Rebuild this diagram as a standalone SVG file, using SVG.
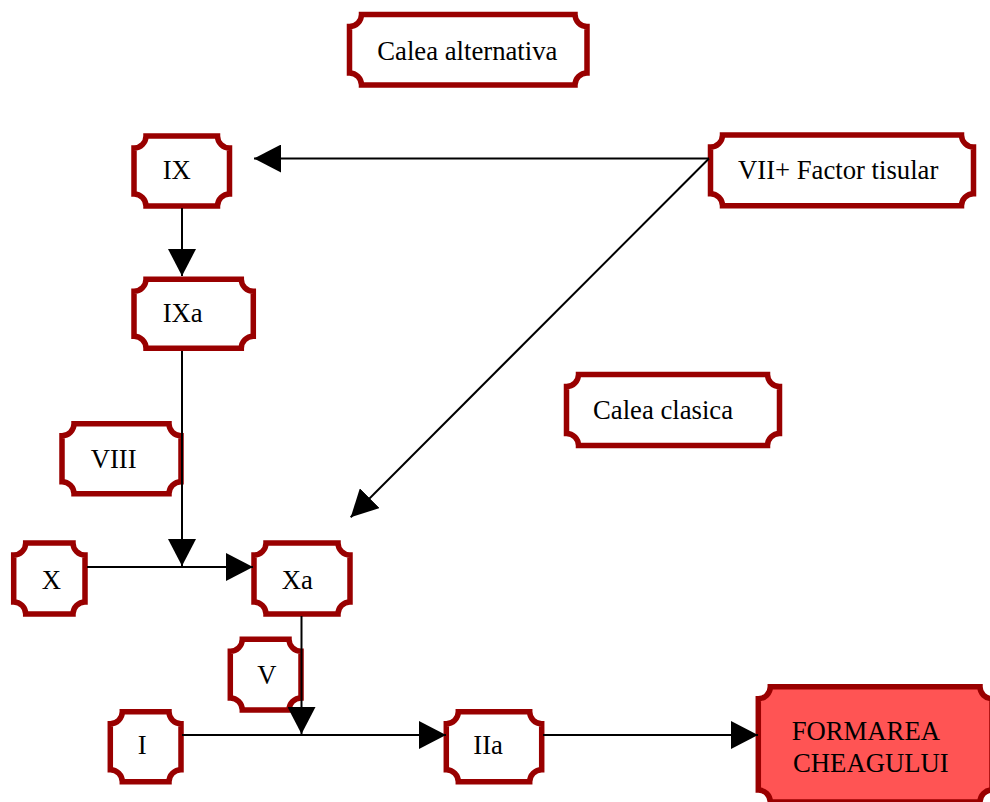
<svg xmlns="http://www.w3.org/2000/svg" width="990" height="802" viewBox="0 0 990 802">
  <style>
    .box { fill: #ffffff; stroke: #990000; stroke-width: 5.5; stroke-linejoin: miter; }
    .hot { fill: #ff5454; }
    .lbl { font-family: "Liberation Serif", "Times New Roman", serif; font-size: 26.7px; fill: #000000; }
    .wire { fill: none; stroke: #000000; stroke-width: 2; }
  </style>
  <defs>
    <marker id="head" markerUnits="userSpaceOnUse" markerWidth="28" markerHeight="28" refX="27" refY="14" orient="auto">
      <path d="M0,0 L27,14 L0,28 Z" fill="#000000"/>
    </marker>
  </defs>

  <!-- rectangles with concave (scooped) corners, r = 12 -->
  <g id="calea-alternativa">
    <path class="box" d="M361.5,14.5 H575 A12,12 0 0 0 587,26.5 V73 A12,12 0 0 0 575,85 H361.5 A12,12 0 0 0 349.5,73 V26.5 A12,12 0 0 0 361.5,14.5 Z"/>
    <text class="lbl" x="377.3" y="60">Calea alternativa</text>
  </g>

  <g id="ix">
    <path class="box" d="M146,136 H217.5 A12,12 0 0 0 229.5,148 V194 A12,12 0 0 0 217.5,206 H146 A12,12 0 0 0 134,194 V148 A12,12 0 0 0 146,136 Z"/>
    <text class="lbl" x="162.7" y="179.3">IX</text>
  </g>

  <g id="ixa">
    <path class="box" d="M146,279.3 H241.3 A12,12 0 0 0 253.3,291.3 V336.3 A12,12 0 0 0 241.3,348.3 H146 A12,12 0 0 0 134,336.3 V291.3 A12,12 0 0 0 146,279.3 Z"/>
    <text class="lbl" x="162.7" y="321.7">IXa</text>
  </g>

  <g id="viii">
    <path class="box" d="M74,423.7 H169 A12,12 0 0 0 181,435.7 V481.7 A12,12 0 0 0 169,493.7 H74 A12,12 0 0 0 62,481.7 V435.7 A12,12 0 0 0 74,423.7 Z"/>
    <text class="lbl" x="90.7" y="468.3">VIII</text>
  </g>

  <g id="calea-clasica">
    <path class="box" d="M578.5,374.5 H767.5 A12,12 0 0 0 779.5,386.5 V433.5 A12,12 0 0 0 767.5,445.5 H578.5 A12,12 0 0 0 566.5,433.5 V386.5 A12,12 0 0 0 578.5,374.5 Z"/>
    <text class="lbl" x="593" y="419">Calea clasica</text>
  </g>

  <g id="vii-factor-tisular">
    <path class="box" d="M722.5,135 H961.5 A12,12 0 0 0 973.5,147 V193.7 A12,12 0 0 0 961.5,205.7 H722.5 A12,12 0 0 0 710.5,193.7 V147 A12,12 0 0 0 722.5,135 Z"/>
    <text class="lbl" x="738" y="179">VII+ Factor tisular</text>
  </g>

  <g id="x">
    <path class="box" d="M25.7,543 H73 A12,12 0 0 0 85,555 V602 A12,12 0 0 0 73,614 H25.7 A12,12 0 0 0 13.7,602 V555 A12,12 0 0 0 25.7,543 Z"/>
    <text class="lbl" x="41.7" y="589">X</text>
  </g>

  <g id="xa">
    <path class="box" d="M266,543 H338 A12,12 0 0 0 350,555 V602 A12,12 0 0 0 338,614 H266 A12,12 0 0 0 254,602 V555 A12,12 0 0 0 266,543 Z"/>
    <text class="lbl" x="281.7" y="589">Xa</text>
  </g>

  <g id="v">
    <path class="box" d="M242.3,639.3 H289 A12,12 0 0 0 301,651.3 V698 A12,12 0 0 0 289,710 H242.3 A12,12 0 0 0 230.3,698 V651.3 A12,12 0 0 0 242.3,639.3 Z"/>
    <text class="lbl" x="257.3" y="684">V</text>
  </g>

  <g id="i">
    <path class="box" d="M122.3,711.7 H169 A12,12 0 0 0 181,723.7 V769.7 A12,12 0 0 0 169,781.7 H122.3 A12,12 0 0 0 110.3,769.7 V723.7 A12,12 0 0 0 122.3,711.7 Z"/>
    <text class="lbl" x="137.7" y="754">I</text>
  </g>

  <g id="iia">
    <path class="box" d="M458.3,711.7 H529.7 A12,12 0 0 0 541.7,723.7 V769.7 A12,12 0 0 0 529.7,781.7 H458.3 A12,12 0 0 0 446.3,769.7 V723.7 A12,12 0 0 0 458.3,711.7 Z"/>
    <text class="lbl" x="473.3" y="754">IIa</text>
  </g>

  <g id="formarea-cheagului">
    <path class="box hot" d="M770.3,686.7 H980 A12,12 0 0 0 992,698.7 V790 A12,12 0 0 0 980,802 H770.3 A12,12 0 0 0 758.3,790 V698.7 A12,12 0 0 0 770.3,686.7 Z"/>
    <text class="lbl" x="791.7" y="740">FORMAREA</text>
    <text class="lbl" x="793" y="772">CHEAGULUI</text>
  </g>

  <g id="connectors">
    <path class="wire" d="M709,158.5 H254" marker-end="url(#head)"/>
    <path class="wire" d="M709,158.5 L350.7,517.3" marker-end="url(#head)"/>
    <path class="wire" d="M182,208 V276" marker-end="url(#head)"/>
    <path class="wire" d="M182,351 V566" marker-end="url(#head)"/>
    <path class="wire" d="M87,567 H253" marker-end="url(#head)"/>
    <path class="wire" d="M301.5,616 V734" marker-end="url(#head)"/>
    <path class="wire" d="M182,735 H446" marker-end="url(#head)"/>
    <path class="wire" d="M543,735 H758" marker-end="url(#head)"/>
  </g>
</svg>
